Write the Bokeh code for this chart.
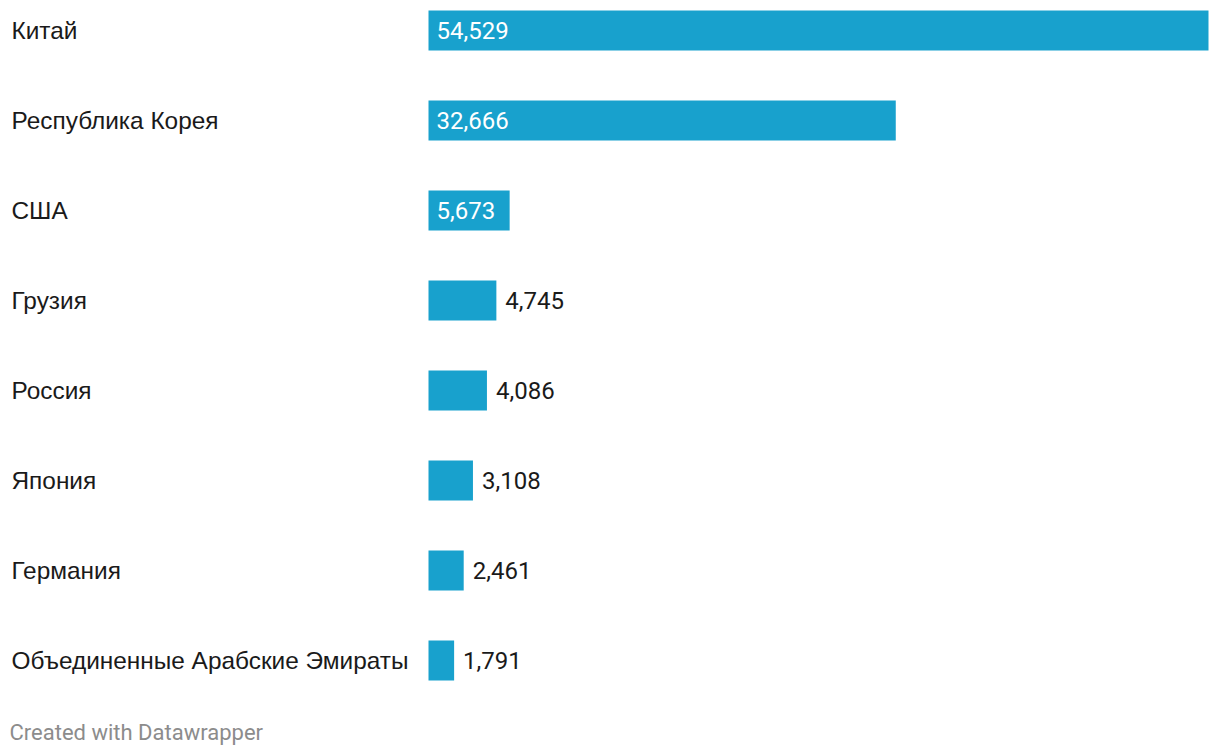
from bokeh.plotting import figure
from bokeh.models import Range1d, ColumnDataSource
from bokeh.core.properties import value
from bokeh.embed import file_html
from bokeh.resources import INLINE

countries = ["Китай", "Республика Корея", "США", "Грузия", "Россия", "Япония", "Германия",
             "Объединенные Арабские Эмираты"]
values = [54529, 32666, 5673, 4745, 4086, 3108, 2461, 1791]
labels = ["54,529", "32,666", "5,673", "4,745", "4,086", "3,108", "2,461", "1,791"]

W, H = 1220, 756
bar_left_px, bar_right_px = 428, 1208
s = (bar_right_px - bar_left_px) / max(values)  # px per unit
row0, step = 30, 90

x_start = -bar_left_px / s
x_end = (W - bar_left_px) / s
y_top = -row0 / step
y_bot = (H - row0) / step

p = figure(width=W, height=H, output_backend="svg", toolbar_location=None,
           x_range=Range1d(x_start, x_end), y_range=Range1d(y_bot, y_top),
           min_border=0, outline_line_color=None)
p.axis.visible = False
p.grid.visible = False
p.background_fill_color = "white"
p.border_fill_color = "white"

idx = list(range(len(countries)))
src = ColumnDataSource(dict(y=idx, v=values, name=countries, lab=labels))
p.hbar(y="y", left=0, right="v", height=40 / step, source=src,
       fill_color="#18a1cd", line_color=None)

p.text(x=[(11 - bar_left_px) / s] * len(idx), y=idx, text=countries,
       text_font=value("Liberation Sans"), text_font_size="24.4px",
       text_baseline="middle", text_align="left", text_color="#1a1a1a")

inside = [i for i in idx if values[i] > 5000]
outside = [i for i in idx if values[i] <= 5000]
p.text(x=[8 / s] * len(inside), y=inside, text=[labels[i] for i in inside],
       text_font=value("Roboto"), text_font_size="24px",
       text_baseline="middle", text_align="left", text_color="white")
p.text(x=[values[i] + 9 / s for i in outside], y=outside, text=[labels[i] for i in outside],
       text_font=value("Roboto"), text_font_size="24px",
       text_baseline="middle", text_align="left", text_color="#1a1a1a")

p.text(x=[(9 - bar_left_px) / s], y=[(732 - row0) / step], text=["Created with Datawrapper"],
       text_font=value("Roboto"), text_font_size="22px",
       text_baseline="middle", text_align="left", text_color="#8c8c8c")

open("out.html", "w").write(file_html(p, INLINE))
